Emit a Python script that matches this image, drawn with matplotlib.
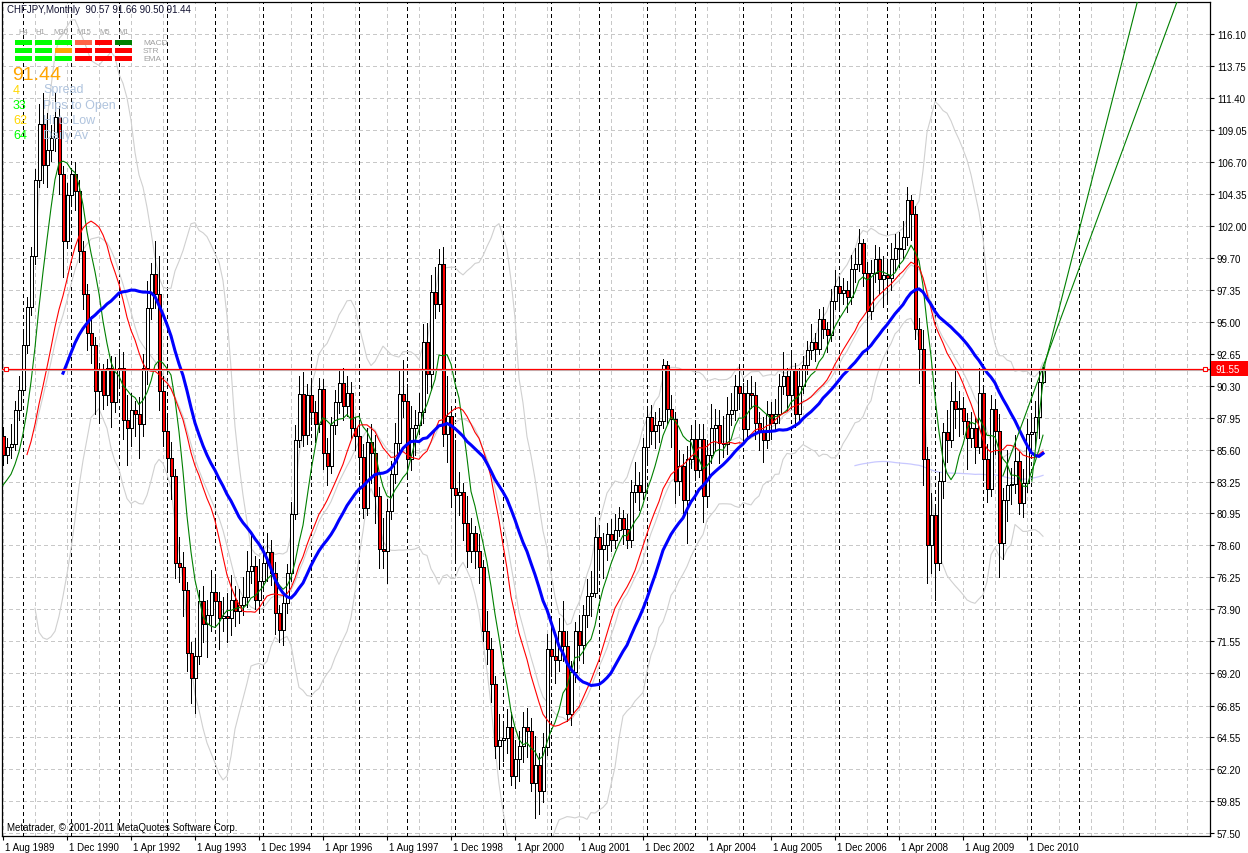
import numpy as np
import pandas as pd
import matplotlib
matplotlib.use("Agg")
import matplotlib.pyplot as plt
from matplotlib.patches import Rectangle
from matplotlib.transforms import blended_transform_factory, ScaledTranslation

W, H = 1248, 854

# ---- data (monthly bars, Aug 1989 .. Apr 2011) ----
symbol = "CHFJPY,Monthly"
last_ohlc = ["90.57", "91.66", "90.50", "91.44"]
first_open = 86.6
closes = [
    85.2, 85.8, 86.0, 88.5, 90.0, 93.3, 96.1, 99.8, 105.4, 109.5,
    106.5, 107.6, 108.5, 110.0, 105.8, 100.9, 104.3, 105.8, 104.6, 100.2,
    97.0, 94.2, 93.3, 89.9, 91.5, 89.6, 91.6, 89.1, 91.5, 91.6,
    87.8, 87.2, 88.5, 88.2, 87.5, 91.6, 96.0, 98.5, 97.0, 89.9,
    87.0, 85.0, 83.7, 77.3, 77.0, 75.3, 70.7, 68.9, 70.5, 74.5,
    72.8, 73.5, 75.2, 74.5, 73.3, 73.4, 73.3, 74.6, 73.8, 74.2,
    74.8, 76.7, 77.1, 74.6, 76.0, 77.3, 78.1, 76.6, 73.6, 72.4,
    74.4, 76.6, 80.9, 86.3, 89.7, 86.7, 89.6, 88.4, 87.5, 90.1,
    85.4, 84.4, 87.4, 89.1, 90.5, 88.8, 89.8, 87.2, 86.6, 85.1,
    81.3, 86.2, 85.4, 82.2, 78.3, 78.2, 81.1, 83.8, 86.1, 89.7,
    89.2, 84.9, 87.2, 87.4, 88.4, 93.5, 91.2, 97.2, 96.3, 99.2,
    86.8, 88.1, 82.8, 82.3, 82.5, 80.2, 78.2, 79.5, 78.2, 77.0,
    72.3, 71.0, 68.4, 63.9, 64.3, 64.5, 65.3, 61.7, 62.9, 63.9,
    65.3, 65.0, 61.2, 62.5, 60.6, 63.8, 71.0, 70.5, 70.2, 72.3,
    71.2, 66.2, 69.3, 72.3, 71.3, 73.5, 74.9, 75.1, 79.2, 78.3,
    78.6, 79.4, 79.0, 79.7, 80.6, 79.8, 79.0, 82.5, 83.0, 82.5,
    85.8, 88.0, 87.0, 87.4, 87.7, 91.8, 88.6, 87.9, 83.3, 84.4,
    81.9, 84.9, 86.4, 84.1, 86.4, 82.2, 85.2, 87.2, 87.4, 86.1,
    86.0, 88.2, 88.5, 90.3, 89.8, 87.1, 89.8, 89.6, 87.6, 87.0,
    86.3, 88.2, 87.6, 88.2, 90.3, 91.0, 89.6, 91.5, 88.2, 90.3,
    91.8, 92.9, 93.5, 93.0, 95.2, 94.5, 94.0, 96.5, 97.6, 97.1,
    97.3, 96.8, 98.9, 99.2, 100.8, 98.6, 95.8, 98.6, 99.6, 98.1,
    98.4, 98.2, 99.6, 100.4, 100.3, 101.2, 103.9, 102.9, 94.5, 93.0,
    84.9, 78.6, 80.8, 77.3, 83.3, 86.9, 86.3, 89.2, 88.6, 88.7,
    87.7, 86.5, 87.2, 85.8, 89.8, 84.9, 82.7, 88.6, 87.0, 78.8,
    81.9, 83.0, 83.1, 84.8, 81.7, 83.2, 86.8, 86.9, 88.0, 90.57,
    91.44,
]
highs = [
    87.3, 86.5, 87.5, 89.2, 91.0, 94.2, 96.8, 100.5, 106.2, 111.0,
    111.8, 110.3, 109.4, 111.8, 110.8, 106.4, 105.2, 106.3, 106.7, 105.4,
    100.9, 97.8, 95.4, 93.9, 92.0, 91.9, 92.3, 92.5, 92.4, 93.0,
    92.8, 89.6, 89.8, 89.2, 89.5, 92.6, 98.0, 99.3, 100.9, 99.8,
    91.0, 88.3, 86.2, 84.2, 79.2, 78.1, 75.9, 71.5, 71.8, 75.3,
    75.6, 74.6, 76.8, 76.2, 75.2, 74.8, 75.1, 76.4, 75.6, 75.4,
    76.3, 78.2, 79.6, 77.8, 77.6, 78.3, 79.5, 79.0, 77.4, 74.2,
    75.1, 77.2, 81.8, 87.4, 91.0, 91.3, 90.4, 90.9, 89.2, 90.9,
    90.8, 86.5, 88.0, 90.0, 91.4, 91.6, 91.0, 90.6, 88.0, 87.7,
    86.0, 87.2, 87.5, 86.7, 82.9, 80.6, 82.0, 84.8, 87.6, 91.5,
    92.2, 90.4, 88.8, 88.5, 89.8, 94.8, 94.9, 98.4, 99.0, 100.3,
    100.5, 91.0, 88.8, 86.3, 84.0, 83.2, 82.2, 80.6, 80.0, 79.4,
    77.5, 73.8, 71.8, 69.0, 66.2, 65.6, 66.6, 66.4, 64.3, 65.0,
    66.4, 66.7, 65.9, 64.6, 63.4, 64.8, 72.1, 72.9, 71.7, 73.3,
    74.5, 72.3, 70.1, 73.0, 73.5, 74.2, 76.1, 76.7, 80.7, 80.1,
    79.5, 80.2, 80.5, 80.9, 81.4, 81.2, 80.9, 83.4, 84.7, 84.0,
    86.5, 88.7, 88.9, 88.4, 88.7, 92.3, 92.1, 89.6, 88.4, 85.6,
    85.3, 85.9, 87.4, 87.8, 87.5, 87.5, 86.3, 89.0, 88.6, 88.5,
    88.1, 89.5, 89.8, 91.1, 91.9, 90.5, 90.7, 91.0, 90.6, 88.4,
    88.0, 89.2, 89.1, 89.3, 91.2, 92.8, 91.6, 92.7, 92.0, 91.6,
    92.5, 93.6, 94.8, 94.2, 95.9, 96.1, 95.0, 97.4, 98.8, 98.3,
    98.2, 98.0, 99.9, 100.4, 101.8, 101.1, 99.4, 99.5, 100.6, 100.5,
    99.8, 99.5, 100.8, 101.4, 101.6, 102.4, 104.9, 104.3, 103.5, 95.3,
    94.4, 85.8, 82.4, 81.6, 84.0, 87.6, 88.5, 90.6, 91.7, 89.9,
    89.5, 88.3, 88.4, 88.0, 91.6, 90.3, 86.0, 89.6, 89.3, 88.2,
    82.8, 85.6, 84.3, 86.7, 85.5, 84.2, 87.9, 88.1, 89.2, 91.4,
    91.66,
]
lows = [
    84.5, 84.6, 85.0, 85.6, 87.8, 89.6, 92.7, 95.5, 99.2, 104.9,
    105.2, 104.9, 106.8, 107.5, 104.4, 98.3, 100.4, 103.6, 103.2, 99.4,
    95.9, 92.9, 92.0, 88.2, 87.6, 88.6, 88.9, 87.3, 88.4, 90.4,
    86.4, 84.5, 85.9, 86.6, 85.0, 86.6, 90.4, 95.2, 96.0, 88.5,
    85.9, 84.2, 82.0, 76.2, 75.9, 73.4, 69.4, 67.0, 66.3, 69.9,
    71.5, 70.4, 72.3, 72.6, 71.0, 72.3, 71.5, 72.0, 72.7, 72.9,
    73.5, 74.1, 75.8, 73.9, 73.6, 75.4, 76.0, 75.7, 72.1, 71.5,
    71.3, 73.6, 76.0, 80.5, 85.8, 85.9, 86.0, 87.5, 86.2, 86.9,
    84.2, 83.0, 83.9, 86.8, 88.3, 87.8, 88.1, 86.5, 85.6, 83.8,
    80.6, 80.8, 83.2, 80.2, 76.9, 76.9, 75.8, 80.5, 83.2, 85.5,
    88.0, 83.7, 84.1, 85.2, 86.8, 87.6, 89.8, 90.0, 95.3, 95.8,
    85.9, 84.7, 81.4, 77.4, 80.8, 79.0, 77.0, 77.4, 76.9, 75.8,
    71.6, 69.9, 67.1, 63.0, 62.2, 62.8, 63.4, 61.0, 60.8, 61.3,
    62.7, 63.1, 60.6, 58.6, 58.9, 59.8, 63.2, 69.0, 68.5, 69.4,
    70.1, 65.7, 65.4, 68.6, 70.2, 70.0, 72.6, 73.4, 74.8, 77.0,
    76.2, 77.5, 78.2, 78.4, 79.3, 78.7, 78.4, 78.5, 81.8, 81.2,
    82.0, 84.8, 86.0, 85.7, 86.2, 87.2, 87.5, 85.8, 81.7, 82.3,
    80.9, 78.8, 84.3, 83.4, 83.6, 80.3, 81.4, 84.6, 85.6, 84.6,
    85.1, 85.3, 87.4, 87.8, 88.6, 86.2, 86.4, 88.7, 86.4, 85.6,
    84.7, 85.7, 86.4, 87.0, 87.6, 89.7, 88.5, 88.9, 87.3, 87.7,
    89.8, 91.2, 92.3, 92.1, 92.6, 93.8, 92.8, 93.6, 95.9, 96.0,
    96.3, 95.7, 96.3, 97.9, 98.7, 97.6, 92.6, 95.2, 97.9, 97.0,
    96.1, 96.6, 97.3, 98.8, 99.0, 99.6, 100.6, 101.0, 93.7, 90.5,
    83.0, 75.8, 76.6, 74.6, 76.8, 82.1, 84.7, 85.8, 87.2, 86.6,
    86.8, 84.2, 85.8, 84.6, 85.4, 83.4, 81.8, 82.2, 85.3, 76.3,
    77.6, 80.4, 81.6, 82.4, 80.9, 80.7, 82.5, 85.5, 85.8, 86.5,
    90.50,
]

date_labels = ["1 Aug 1989", "1 Dec 1990", "1 Apr 1992", "1 Aug 1993", "1 Dec 1994",
               "1 Apr 1996", "1 Aug 1997", "1 Dec 1998", "1 Apr 2000", "1 Aug 2001",
               "1 Dec 2002", "1 Apr 2004", "1 Aug 2005", "1 Dec 2006", "1 Apr 2008",
               "1 Aug 2009", "1 Dec 2010"]
label_step = 16      # bars between time labels
first_january = 5    # bar index of Jan 1990 (year separators)

price_labels = ["116.10", "113.75", "111.40", "109.05", "106.70", "104.35", "102.00",
                "99.70", "97.35", "95.00", "92.65", "90.30", "87.95", "85.60", "83.25",
                "80.95", "78.60", "76.25", "73.90", "71.55", "69.20", "66.85", "64.55",
                "62.20", "59.85", "57.50"]
hline_price = 91.55
bid_price = 91.44

# indicators: warm-up level at the left edge
warmup_level = 82.7
green_period, red_period, blue_period = 8, 18, 30
red_start, blue_start = 6, 15
bb_period, bb_dev, bb_start = 20, 2.0, 8
long_period = 214

# green projection lines (bar index, price)
proj_a_bars, proj_a_prices = [250.0, 293.8], [83.7, 118.7]
proj_b_bars, proj_b_prices = [257.2, 260.5, 283.8], [83.3, 91.9, 118.7]

# info panel
panel_tf = ["H4", "H1", "M30", "M15", "M5", "M1"]
panel_rows = ["MACD", "STR", "EMA"]
panel_colors = [
    ["#00ff00", "#00ff00", "#00ff00", "#ff6347", "#ff0000", "#008000"],
    ["#00ff00", "#00ff00", "#ffa500", "#ff0000", "#ff0000", "#ff0000"],
    ["#00ff00", "#00ff00", "#00ff00", "#ff0000", "#ff0000", "#ff0000"],
]
big_price = "91.44"
info_values = ["4", "33", "62", "64"]
info_labels = ["Spread", "Pips to Open", "Hi to Low", "Daily Av"]
info_colors = ["#ffd700", "#00ff00", "#ffd700", "#00ff00"]
copyright_text = "Metatrader, \u00a9 2001-2011 MetaQuotes Software Corp."

plt.rcParams['font.family'] = ['Liberation Sans', 'DejaVu Sans']


def sma(values, period, pad=None):
    v = np.asarray(values, float)
    if pad is not None:
        v = np.concatenate([np.full(period - 1, pad), v])
    return np.convolve(v, np.ones(period) / period, mode="valid")


def fx(x):
    return x / W


def fy(y):
    return 1 - y / H


c = np.array(closes)
o = np.concatenate([[first_open], c[:-1]])
hi = np.array(highs)
lo = np.array(lows)
n = len(c)
bars = np.arange(n)

fig = plt.figure(figsize=(W / 100, H / 100), dpi=100, facecolor="white")
ax = fig.add_axes([fx(2), fy(837), (1210 - 2) / W, (837 - 3) / H])
ax.set_xlim(-0.25, 301.75)
ax.set_ylim(57.28, 118.447)

tick_vals = [float(t) for t in price_labels]

# grid
for v in tick_vals:
    ax.axhline(v, color="#c8c8c8", lw=0.72, ls=(0, (3, 3)), zorder=0.5, antialiased=False)
for b in range(0, 300, label_step // 2):
    ax.axvline(b, color="#c8c8c8", lw=0.72, ls=(0, (3, 3)), zorder=0.5, antialiased=False)
for b in range(first_january, 272, 12):
    ax.axvline(b, color="black", lw=0.72, ls=(0, (3, 3)), zorder=0.6, antialiased=False)

# bollinger bands + long average
padded = pd.Series(np.concatenate([np.full(bb_period - 1, warmup_level), c]))
mid = padded.rolling(bb_period).mean().to_numpy()[bb_period - 1:]
sd = padded.rolling(bb_period).std(ddof=0).to_numpy()[bb_period - 1:]
for line in (mid, mid + bb_dev * sd, mid - bb_dev * sd):
    ax.plot(bars[bb_start:], line[bb_start:], color="#d0d0d0", lw=0.8, zorder=1)
long_ma = sma(c, long_period)
ax.plot(bars[long_period - 1:], long_ma, color="#c8c8ff", lw=0.9, zorder=1)

# candles
ax.vlines(bars, lo, hi, color="black", lw=0.72, zorder=2, antialiased=False)
body_col = np.where(c >= o, "white", "#ff0000")
ax.bar(bars, np.abs(c - o), bottom=np.minimum(o, c), width=0.75,
       color=body_col, edgecolor="black", linewidth=0.72, zorder=3, antialiased=False)

# moving averages
green = sma(c, green_period, warmup_level)
red = sma(c, red_period, warmup_level)
blue = sma(c, blue_period, warmup_level)
ax.plot(bars, green, color="#008000", lw=0.8, zorder=4)
ax.plot(bars[red_start:], red[red_start:], color="#ff0000", lw=0.8, zorder=4)
ax.plot(bars[blue_start:], blue[blue_start:], color="#0000ff", lw=2.2, zorder=4)
ax.plot(proj_a_bars, proj_a_prices, color="#008000", lw=0.8, zorder=4)
ax.plot(proj_b_bars, proj_b_prices, color="#008000", lw=0.8, zorder=4)

# horizontal line + bid line
ax.axhline(bid_price, color="#c0c0c0", lw=0.8, zorder=4)
ax.axhline(hline_price, color="#ff0000", lw=0.9, zorder=5)
bt = blended_transform_factory(ax.transAxes, ax.transData)
ax.plot([0.003, 0.996], [hline_price, hline_price], "s", transform=bt, ms=3.5,
        mfc="white", mec="#ff0000", mew=0.8, zorder=6, clip_on=False)

# axes styling
for s in ax.spines.values():
    s.set_color("black")
    s.set_linewidth(0.9)
ax.yaxis.tick_right()
ax.set_yticks(tick_vals, price_labels)
ax.tick_params(axis="y", length=3, width=0.8, pad=2, labelsize=7, colors="black")
ax.set_xticks(np.arange(len(date_labels)) * label_step, date_labels)
ax.tick_params(axis="x", length=3, width=0.8, pad=1.5, labelsize=7, colors="black")
off = ScaledTranslation(2 / 100, 0, fig.dpi_scale_trans)
for lab in ax.get_xticklabels():
    lab.set_horizontalalignment("left")
    lab.set_transform(lab.get_transform() + off)

# price tag on the axis
py = H - ax.transData.transform((0, hline_price))[1]
fig.add_artist(Rectangle((fx(1211), fy(py + 7.5)), 37 / W, 15 / H, transform=fig.transFigure,
                         fc="#ff0000", ec="none", zorder=10))
fig.text(fx(1215), fy(py), f"{hline_price:.2f}", color="white", fontsize=7,
         va="center", ha="left", zorder=11)

# header texts
fig.text(fx(7), fy(10), symbol + "  " + " ".join(last_ohlc), fontsize=7,
         color="#101030", va="center", ha="left")
tf_x = [23, 40, 61, 84, 105, 124]
for t, x in zip(panel_tf, tf_x):
    fig.text(fx(x), fy(32), t, fontsize=5.5, color="#a0a0a0", va="center", ha="center")
for r, row in enumerate(panel_colors):
    for k, col in enumerate(row):
        fig.add_artist(Rectangle((fx(15 + 20 * k), fy(46 + 8 * r)), 17 / W, 5 / H,
                                 transform=fig.transFigure, fc=col, ec="none"))
    fig.text(fx(143), fy(43.5 + 8 * r), panel_rows[r], fontsize=6, color="#a0a0a0",
             va="center", ha="left")
fig.text(fx(12), fy(75), big_price, fontsize=14, color="#ffa500", va="center", ha="left")
for k, (v, lab, col) in enumerate(zip(info_values, info_labels, info_colors)):
    yy = 90.5 + 15.3 * k
    fig.text(fx(13), fy(yy), v, fontsize=9, color=col, va="center", ha="left")
    fig.text(fx(43), fy(yy), lab, fontsize=9, color="#b0c4de", va="center", ha="left")

fig.text(fx(7), fy(828), copyright_text, fontsize=7, color="black", va="center", ha="left")

fig.savefig("out.png", dpi=100, facecolor="white")
